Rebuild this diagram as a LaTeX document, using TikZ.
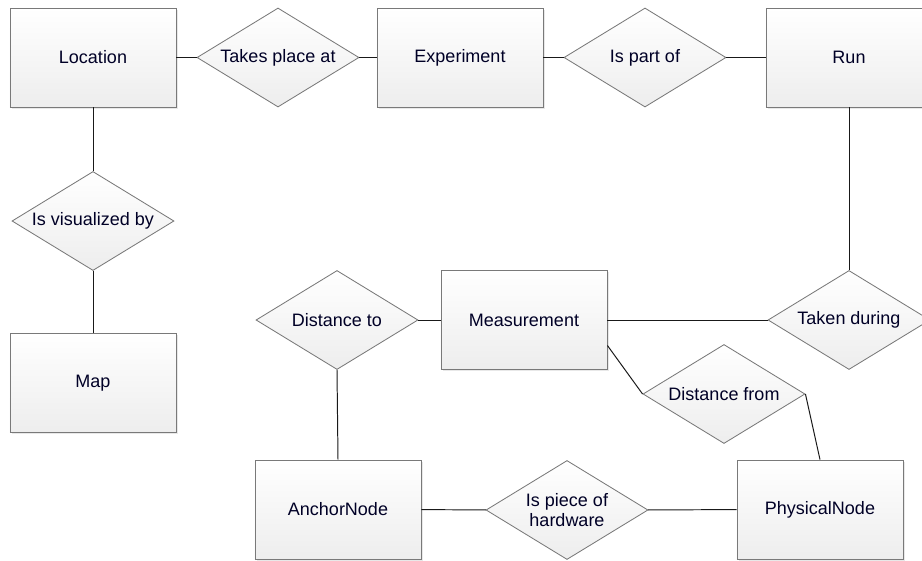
\documentclass[tikz,border=0pt]{standalone}
\usepackage{fontspec}
\setmainfont{Liberation Sans}
\usetikzlibrary{shapes.geometric}
\usetikzlibrary{shadows}

\tikzset{
  entity/.style={draw=gray!95!black, line width=0.6pt, top color=white, bottom color=gray!14,
    minimum width=4.15cm, minimum height=2.475cm,
    drop shadow={shadow xshift=1.2pt, shadow yshift=-1.2pt, opacity=0.18},
    font=\fontsize{12.8}{14.5}\selectfont, text=black!85!blue},
  relation/.style={diamond, draw=gray!95!black, line width=0.6pt, top color=white, bottom color=gray!14,
    aspect=1.65, inner sep=-5pt, minimum width=4.05cm, minimum height=2.475cm, align=center,
    font=\fontsize{12.8}{14.5}\selectfont, text=black!85!blue},
  link/.style={black!90, line width=0.7pt}
}

\begin{document}
\begin{tikzpicture}[x=0.025cm, y=-0.025cm]

\useasboundingbox (0,0) rectangle (922,560);

% entities
\node[entity] (location) at (93,57.5) {Location};
\node[entity] (experiment) at (460,57.5) {Experiment};
\node[entity] (run) at (849,57.5) {Run};
\node[entity] (map) at (93,383) {Map};
\node[entity] (measurement) at (524,320) {Measurement};
\node[entity] (anchor) at (338,509.5) {AnchorNode};
\node[entity] (physical) at (820,509.5) {PhysicalNode};

% relations
\node[relation] (takesplace) at (278,57.5) {Takes place at};
\node[relation] (partof) at (645,57.5) {Is part of};
\node[relation] (visualized) at (93,221) {Is visualized by};
\node[relation] (distto) at (337,320) {Distance to};
\node[relation] (taken) at (849,320) {Taken during};
\node[relation] (distfrom) at (724,394) {Distance from};
\node[relation] (hardware) at (567,510) {Is piece of\\hardware};

% links
\draw[link] (location) -- (takesplace);
\draw[link] (takesplace) -- (experiment);
\draw[link] (experiment) -- (partof);
\draw[link] (partof) -- (run);
\draw[link] (location) -- (visualized);
\draw[link] (visualized) -- (map);
\draw[link] (run) -- (taken);
\draw[link] (taken) -- (measurement);
\draw[link] (distto) -- (measurement);
\draw[link] (distto.south) -- (anchor.north);
\draw[link] (measurement.-17) -- (distfrom.west);
\draw[link] (distfrom.east) -- (physical.north);
\draw[link] (anchor) -- (hardware);
\draw[link] (hardware) -- (physical);

\end{tikzpicture}
\end{document}
